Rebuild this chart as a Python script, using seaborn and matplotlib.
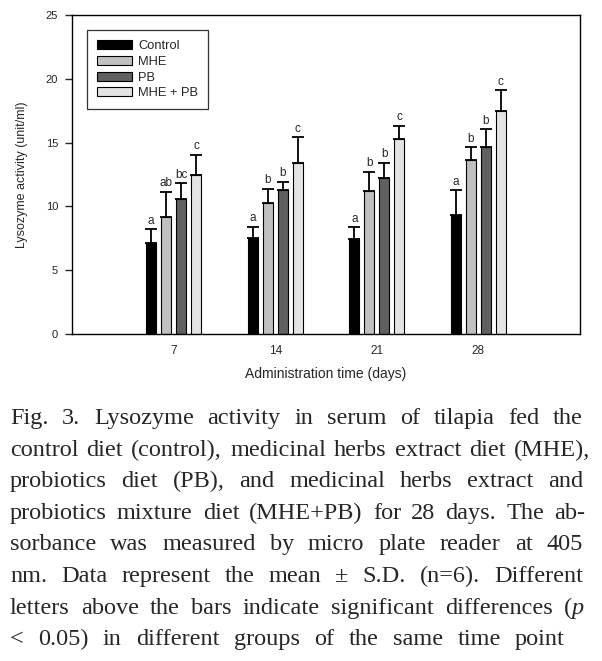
import numpy as np
import pandas as pd
import matplotlib
matplotlib.use("Agg")
import matplotlib.pyplot as plt
import matplotlib.patches as mpatches
import seaborn as sns

days = ["7", "14", "21", "28"]
groups = ["Control", "MHE", "PB", "MHE + PB"]
colors = ["#000000", "#c0c0c0", "#606060", "#e4e4e4"]

control = [7.15, 7.55, 7.45, 9.3]
mhe = [9.15, 10.3, 11.2, 13.6]
pb = [10.55, 11.25, 12.2, 14.65]
mix = [12.45, 13.4, 15.25, 17.5]

control_sd = [1.05, 0.85, 0.9, 1.95]
mhe_sd = [2.0, 1.1, 1.5, 1.05]
pb_sd = [1.25, 0.7, 1.2, 1.4]
mix_sd = [1.6, 2.0, 1.05, 1.6]

control_let = ["a", "a", "a", "a"]
mhe_let = ["ab", "b", "b", "b"]
pb_let = ["bc", "b", "b", "b"]
mix_let = ["c", "c", "c", "c"]

values = [control, mhe, pb, mix]
sds = [control_sd, mhe_sd, pb_sd, mix_sd]
lets = [control_let, mhe_let, pb_let, mix_let]

rows = []
for g, v in zip(groups, values):
    for d, y in zip(days, v):
        rows.append({"day": d, "group": g, "value": y})
df = pd.DataFrame(rows)

sns.set_style("ticks")
plt.rcParams["font.family"] = ["Liberation Sans", "DejaVu Sans"]

fig = plt.figure(figsize=(6.02, 6.61), dpi=100)
ax = fig.add_axes([72 / 602, 1 - 334 / 661, 508 / 602, 319 / 661])

sns.barplot(data=df, x="day", y="value", hue="group", hue_order=groups,
            palette=colors, width=0.59, gap=0.33, edgecolor="black",
            linewidth=0.8, errorbar=None, legend=False, ax=ax)

# error bars (upper only) and significance letters
for cont, sd, lt in zip(ax.containers, sds, lets):
    xs = [b.get_x() + b.get_width() / 2 for b in cont]
    hs = [b.get_height() for b in cont]
    ax.errorbar(xs, hs, yerr=[np.zeros(len(sd)), sd], fmt="none",
                ecolor="black", elinewidth=1.3, capsize=4.5, capthick=1.3, zorder=5)
    for x, h, s, l in zip(xs, hs, sd, lt):
        ax.text(x, h + s + 0.2, l, ha="center", va="bottom", fontsize=8.5)

ax.set_xlim(-1, 4)
ax.set_ylim(0, 25)
ax.set_yticks([0, 5, 10, 15, 20, 25])
ax.tick_params(axis="y", direction="out", length=5, width=1, labelsize=8, pad=5)
ax.tick_params(axis="x", length=0, labelsize=8.5, pad=8)
for sp in ax.spines.values():
    sp.set_visible(True)
    sp.set_color("black")
    sp.set_linewidth(1)

ax.set_ylabel("Lysozyme activity (unit/ml)", fontsize=9)
ax.yaxis.set_label_coords(-0.087, 0.5)
ax.set_xlabel("Administration time (days)", fontsize=10)
ax.xaxis.set_label_coords(0.5, -0.102)

handles = [mpatches.Patch(facecolor=c, edgecolor="black", linewidth=0.8) for c in colors]
ax.legend(handles, groups, loc="upper left", bbox_to_anchor=(0.03, 0.953),
          frameon=True, fancybox=False, edgecolor="black", fontsize=9.3,
          handlelength=2.7, handleheight=0.7, labelspacing=0.3,
          borderpad=0.75, handletextpad=0.5, borderaxespad=0)
ax.get_legend().get_frame().set_linewidth(0.9)

# justified caption
caption = [
    "Fig. 3. Lysozyme activity in serum of tilapia fed the",
    "control diet (control), medicinal herbs extract diet (MHE),",
    "probiotics diet (PB), and medicinal herbs extract and",
    "probiotics mixture diet (MHE+PB) for 28 days. The ab-",
    "sorbance was measured by micro plate reader at 405",
    "nm. Data represent the mean \u00b1 S.D. (n=6). Different",
    "letters above the bars indicate significant differences (*p*",
    "< 0.05) in different groups of the same time point",
]
right_edges = [583, 590, 583, 585, 583, 583, 584, 565]
renderer = fig.canvas.get_renderer()
W, H = 602.0, 661.0
base_y = 424
for i, line in enumerate(caption):
    y = 1 - (base_y + i * 31.6) / H
    words = []
    for w in line.split(" "):
        segs = w.split("*")
        parts = []
        for k, s in enumerate(segs):
            if s == "":
                continue
            t = fig.text(0, y, s, fontsize=17.5, family="Liberation Serif",
                         style="italic" if k % 2 == 1 else "normal", va="baseline")
            parts.append(t)
        words.append(parts)
    widths = []
    for parts in words:
        widths.append(sum(t.get_window_extent(renderer).width for t in parts))
    gap = (right_edges[i] - 10 - sum(widths)) / (len(words) - 1)
    x = 10.0
    for parts, wd in zip(words, widths):
        xx = x
        for t in parts:
            t.set_x(xx / W)
            xx += t.get_window_extent(renderer).width
        x += wd + gap

fig.savefig("out.png", dpi=100)
